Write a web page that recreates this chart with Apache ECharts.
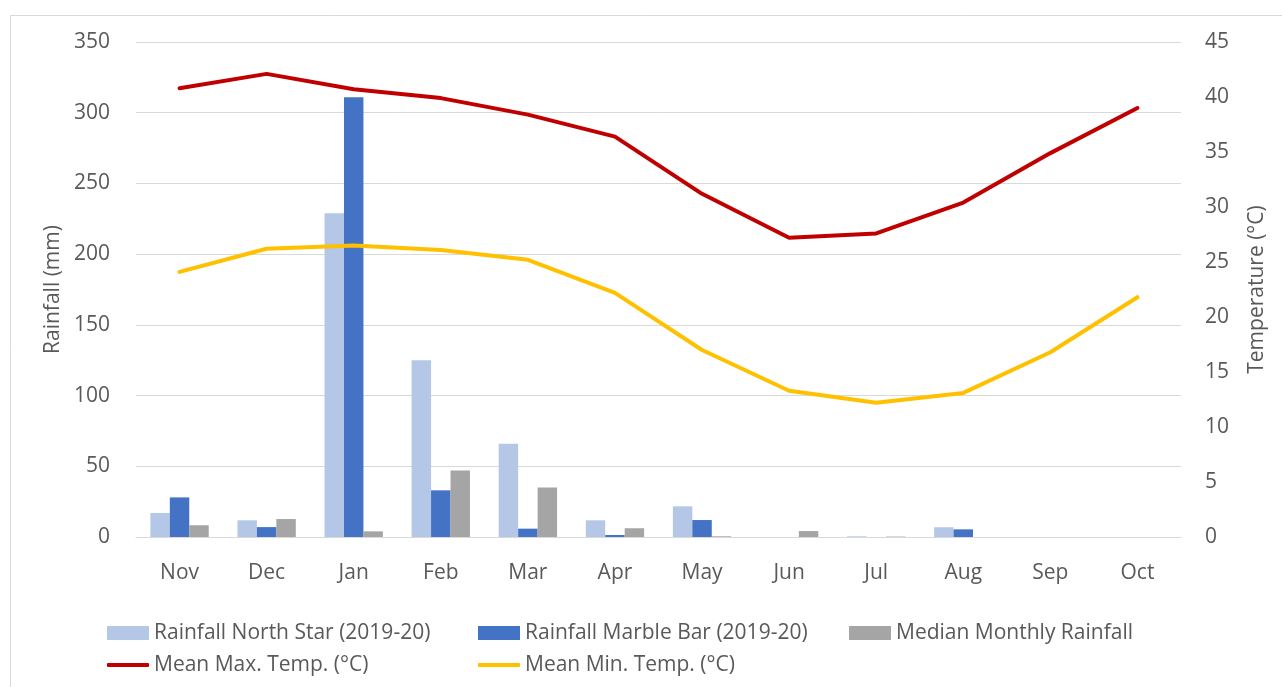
<!DOCTYPE html>
<html lang="en">
<head>
    <meta charset="UTF-8">
    <title>Rainfall and temperature</title>
    <style>
        body { margin: 0; background: #fff; }
    </style>
</head>
<body>
<div id="chart" style="width: 1282px;height: 687px;"></div>
<script src="https://cdn.jsdelivr.net/npm/echarts@6/dist/echarts.min.js"></script>
<script>
    /* months */
    var months = ['Nov', 'Dec', 'Jan', 'Feb', 'Mar', 'Apr', 'May', 'Jun', 'Jul', 'Aug', 'Sep', 'Oct'];
    /* rainfall (mm) */
    var northStar = [17, 11.8, 229, 125, 66, 11.8, 21.7, 0, 0.5, 6.9, 0, 0];
    var marbleBar = [28, 7, 311, 33, 5.9, 1.4, 12, 0, 0, 5.4, 0, 0];
    var medianRain = [8.3, 12.7, 4, 47, 35, 6.2, 0.5, 4.2, 0.3, 0, 0, 0];
    /* temperature (°C) */
    var maxTemp = [40.8, 42.1, 40.7, 39.9, 38.4, 36.4, 31.2, 27.2, 27.6, 30.4, 34.9, 39.0];
    var minTemp = [24.1, 26.2, 26.5, 26.1, 25.2, 22.2, 17.0, 13.3, 12.2, 13.1, 16.8, 21.8];

    var font = 'Open Sans';
    var grey = '#595959';
    var fs = 21;

    var legendText = { color: grey, fontSize: fs, fontFamily: font, width: 324, lineHeight: 32 };

    var chart = echarts.init(document.getElementById('chart'));
    var option = {
        animation: false,
        textStyle: { fontFamily: font },
        graphic: [{
            type: 'rect',
            shape: { x: 10.5, y: 15.5, width: 1290, height: 700 },
            style: { fill: 'none', stroke: '#d9d9d9', lineWidth: 1 },
            silent: true
        }],
        grid: { left: 136, right: 101, top: 42, bottom: 150 },
        legend: [
            {
                left: 107,
                top: 617,
                padding: 0,
                width: 1130,
                itemWidth: 42,
                itemHeight: 14,
                itemGap: 0,
                icon: 'rect',
                textStyle: legendText,
                data: ['Rainfall North Star (2019-20)', 'Rainfall Marble Bar (2019-20)', 'Median Monthly Rainfall']
            },
            {
                left: 107,
                top: 649,
                padding: 0,
                width: 1130,
                itemWidth: 42,
                itemHeight: 4,
                itemGap: 0,
                icon: 'roundRect',
                textStyle: legendText,
                data: ['Mean Max. Temp. (°C)', 'Mean Min. Temp. (°C)']
            }
        ],
        xAxis: {
            type: 'category',
            data: months,
            axisLine: { lineStyle: { color: '#d9d9d9', width: 1 } },
            axisTick: { show: false },
            axisLabel: { color: grey, fontSize: fs, margin: 26 }
        },
        yAxis: [
            {
                type: 'value',
                min: 0, max: 350, interval: 50,
                name: 'Rainfall (mm)',
                nameLocation: 'middle',
                nameGap: 72,
                nameTextStyle: { color: grey, fontSize: fs },
                axisLine: { show: false },
                axisTick: { show: false },
                axisLabel: { color: grey, fontSize: fs, margin: 26 },
                splitLine: { lineStyle: { color: '#d9d9d9', width: 1 } }
            },
            {
                type: 'value',
                min: 0, max: 45, interval: 5,
                name: 'Temperature (°C)',
                nameLocation: 'middle',
                nameGap: 66,
                nameTextStyle: { color: grey, fontSize: fs },
                axisLine: { show: false },
                axisTick: { show: false },
                axisLabel: { color: grey, fontSize: fs, margin: 24 },
                splitLine: { show: false }
            }
        ],
        series: [
            {
                name: 'Rainfall North Star (2019-20)',
                type: 'bar',
                barGap: '0%',
                barCategoryGap: '33%',
                itemStyle: { color: '#B4C7E7' },
                data: northStar
            },
            {
                name: 'Rainfall Marble Bar (2019-20)',
                type: 'bar',
                itemStyle: { color: '#4472C4' },
                data: marbleBar
            },
            {
                name: 'Median Monthly Rainfall',
                type: 'bar',
                itemStyle: { color: '#A5A5A5' },
                data: medianRain
            },
            {
                name: 'Mean Max. Temp. (°C)',
                type: 'line',
                yAxisIndex: 1,
                symbol: 'none',
                lineStyle: { color: '#C00000', width: 4, cap: 'round' },
                itemStyle: { color: '#C00000' },
                z: 5,
                data: maxTemp
            },
            {
                name: 'Mean Min. Temp. (°C)',
                type: 'line',
                yAxisIndex: 1,
                symbol: 'none',
                lineStyle: { color: '#FFC000', width: 4, cap: 'round' },
                itemStyle: { color: '#FFC000' },
                z: 5,
                data: minTemp
            }
        ]
    };
    chart.setOption(option);
</script>
</body>
</html>
